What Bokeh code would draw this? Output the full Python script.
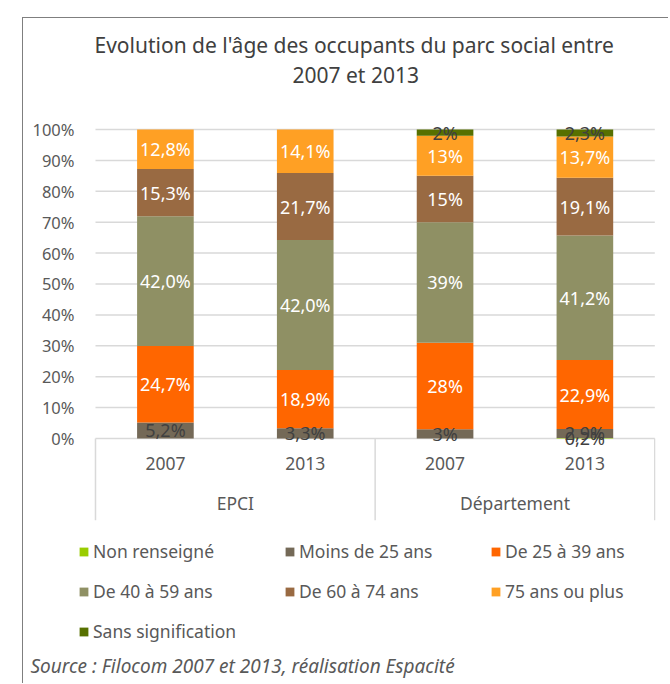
from bokeh.plotting import figure
from bokeh.models import (ColumnDataSource, Legend, LegendItem, Title, FixedTicker,
                          NumeralTickFormatter, Range1d)
from bokeh.core.properties import value
from bokeh.embed import file_html
from bokeh.resources import INLINE

# ---- data ----
groups = ["EPCI", "Département"]
years = ["2007", "2013", "2007", "2013"]
series_names = ["Non renseigné", "Moins de 25 ans", "De 25 à 39 ans", "De 40 à 59 ans",
                "De 60 à 74 ans", "75 ans ou plus", "Sans signification"]
non_renseigne = [0, 0, 0, 0.2]
moins_25 = [5.2, 3.3, 3, 2.9]
de_25_39 = [24.7, 18.9, 28, 22.9]
de_40_59 = [42.0, 42.0, 39, 41.2]
de_60_74 = [15.3, 21.7, 15, 19.1]
plus_75 = [12.8, 14.1, 13, 13.7]
sans_signif = [0, 0, 2, 2.3]
label_decimals = [1, 1, 0, 1]
y_ticks = [0, 0.1, 0.2, 0.3, 0.4, 0.5, 0.6, 0.7, 0.8, 0.9, 1.0]

series_values = [non_renseigne, moins_25, de_25_39, de_40_59, de_60_74, plus_75, sans_signif]
colors = ["#99CC00", "#746957", "#FF6600", "#8F9064", "#996A42", "#FFA024", "#577000"]
label_colors = ["#404040", "#404040", "#FFFFFF", "#FFFFFF", "#FFFFFF", "#FFFFFF", "#404040"]

FONT = "Noto Sans"
TXT = "#595959"
GRID = "#d9d9d9"

n = len(years)
xs = [i + 0.5 for i in range(n)]
totals = [sum(s[i] for s in series_values) for i in range(n)]
keys = ["s%d" % k for k in range(len(series_values))]
data = {"x": xs}
for k, s in zip(keys, series_values):
    data[k] = [s[i] / totals[i] for i in range(n)]
src = ColumnDataSource(data)

Y_AX = -0.265
Y_MIN = -0.67
Y_MAX = 1.1327
p = figure(width=646, height=666, output_backend="svg", toolbar_location=None,
           x_range=Range1d(-0.143, n + 0.005), y_range=Range1d(Y_MIN, Y_MAX),
           x_axis_type=None, min_border_left=52, min_border_right=14,
           min_border_top=70, min_border_bottom=39)
p.outline_line_color = None
p.margin = (17, 0, 0, 22)
p.styles = {"border-left": "1px solid #7f7f7f", "border-top": "1px solid #7f7f7f"}

# horizontal grid lines over the category span
p.segment(x0=[0] * len(y_ticks), y0=y_ticks, x1=[n] * len(y_ticks), y1=y_ticks,
          line_color=GRID, line_width=1.5)

renderers = p.vbar_stack(keys, x="x", width=0.405, source=src, color=colors, line_color=None)

# segment labels
lx, ly, lt, lc = [], [], [], []
for i in range(n):
    base = 0.0
    for k, s in enumerate(series_values):
        v = s[i]
        frac = v / totals[i]
        if v > 0:
            lx.append(xs[i])
            ly.append(base + frac / 2)
            lt.append(("%.*f" % (label_decimals[i], v)).replace(".", ",") + "%")
            lc.append(label_colors[k])
        base += frac
lsrc = ColumnDataSource(dict(x=lx, y=ly, t=lt, c=lc))
p.text(x="x", y="y", text="t", text_color="c", source=lsrc, text_align="center",
       text_baseline="middle", text_font=value(FONT), text_font_size="18px")

# category axis (drawn)
p.text(x=xs, y=[-0.08] * n, text=years, text_align="center", text_baseline="middle",
       text_font=value(FONT), text_font_size="17.5px", text_color=TXT)
gx = [1.0 + 2 * g for g in range(len(groups))]
p.text(x=gx, y=[-0.21] * len(groups), text=groups, text_align="center",
       text_baseline="middle", text_font=value(FONT), text_font_size="17.5px", text_color=TXT)
sep_x = [0, 2, 4]
p.segment(x0=sep_x, y0=[0] * 3, x1=sep_x, y1=[Y_AX] * 3, line_color=GRID, line_width=1.5)

# y axis
p.yaxis.ticker = FixedTicker(ticks=y_ticks)
p.yaxis.formatter = NumeralTickFormatter(format="0%")
p.yaxis.axis_line_color = None
p.yaxis.major_tick_line_color = None
p.yaxis.minor_tick_line_color = None
p.yaxis.major_tick_out = 0
p.yaxis.major_tick_in = 0
p.yaxis.major_label_standoff = 1
p.yaxis.major_label_text_font = FONT
p.yaxis.major_label_text_font_size = "16.5px"
p.yaxis.major_label_text_color = TXT
p.ygrid.grid_line_color = None
p.xgrid.grid_line_color = None

# title (two lines; first added is closest to the plot)
p.add_layout(Title(text="2007 et 2013", align="left", offset=217, standoff=0,
                   text_font=FONT, text_font_size="21px", text_font_style="normal",
                   text_color="#404040"), "above")
p.add_layout(Title(text="Evolution de l'âge des occupants du parc social entre", align="left",
                   offset=19, standoff=0, text_font=FONT, text_font_size="21px",
                   text_font_style="normal", text_color="#404040"), "above")

# legend (3 columns, row-major)
items = [LegendItem(label=nm, renderers=[r]) for nm, r in zip(series_names, renderers)]
legend = Legend(items=items, orientation="horizontal", ncols=3, location=(3, 2),
                label_text_font=FONT, label_text_font_size="17.5px", label_text_color=TXT,
                glyph_width=11, glyph_height=11, label_standoff=4, label_width=175,
                spacing=16, padding=0, margin=0, border_line_color=None,
                background_fill_alpha=0, label_height=24)
p.add_layout(legend, "center")

src_title = Title(text="Source : Filocom 2007 et 2013, réalisation Espacité", align="left",
                  text_font=FONT, text_font_size="19px", text_font_style="italic",
                  text_color=TXT, offset=-45)
p.add_layout(src_title, "below")

open("out.html", "w").write(file_html(p, INLINE))
